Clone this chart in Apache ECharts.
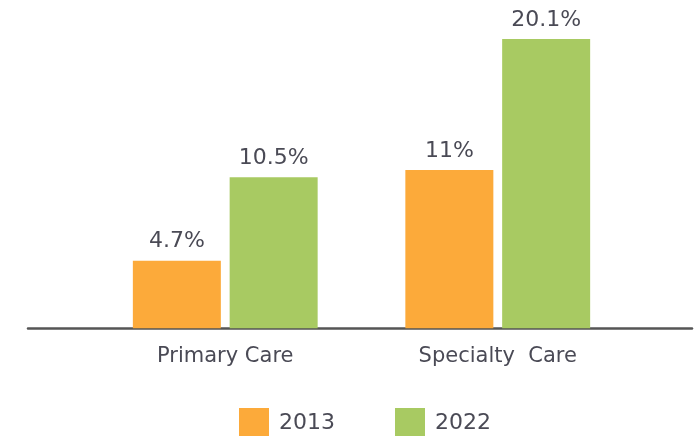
<!DOCTYPE html>
<html>
<head>
<meta charset="utf-8">
<script src="https://cdn.jsdelivr.net/npm/echarts@6/dist/echarts.min.js"></script>
<style>
html,body{margin:0;padding:0;background:#fff;}
#chart{width:694px;height:436px;}
</style>
</head>
<body>
<div id="chart"></div>
<script>
var categories = ['Primary Care', 'Specialty  Care'];
var seriesNames = ['2013', '2022'];
var values2013 = [4.7, 11];
var values2022 = [10.5, 20.1];
var colors = ['#FCAA3A', '#A8CA62'];

var FONT = 'DejaVu Sans';
var TEXT = '#4a4a55';

var chart = echarts.init(document.getElementById('chart'));
var labelCfg = {
  show: true,
  position: 'top',
  distance: 8,
  fontFamily: FONT,
  fontSize: 22,
  color: TEXT,
  formatter: function (p) { return p.value + '%'; }
};
chart.setOption({
  animation: false,
  backgroundColor: '#ffffff',
  color: colors,
  legend: {
    data: seriesNames,
    left: 239,
    top: 408,
    padding: 0,
    icon: 'rect',
    itemWidth: 30,
    itemHeight: 30,
    itemGap: 60,
    textStyle: { fontFamily: FONT, fontSize: 22, color: TEXT, padding: [0, 0, 0, 5] }
  },
  grid: [
    { left: 89, right: 60, top: 11.7, bottom: 107.7, containLabel: false },
    { left: 28, right: 2, top: 11.7, bottom: 107.7, containLabel: false }
  ],
  xAxis: [
    {
      gridIndex: 0,
      type: 'category',
      data: categories,
      axisLine: { show: false },
      axisTick: { show: false },
      axisLabel: { fontFamily: FONT, fontSize: 21, color: TEXT, margin: 18 }
    },
    {
      gridIndex: 1,
      type: 'value',
      min: 0, max: 1,
      axisLine: { show: true, onZero: false, lineStyle: { color: '#555555', width: 2.5 } },
      axisTick: { show: false },
      axisLabel: { show: false },
      splitLine: { show: false }
    }
  ],
  yAxis: [
    { gridIndex: 0, type: 'value', min: 0, max: 22, show: false, splitLine: { show: false } },
    { gridIndex: 1, type: 'value', min: 0, max: 1, show: false, splitLine: { show: false } }
  ],
  series: [
    {
      name: seriesNames[0], type: 'bar', xAxisIndex: 0, yAxisIndex: 0,
      data: values2013, barWidth: 88, barGap: '10%', label: labelCfg,
      itemStyle: { color: colors[0] }, z: 3
    },
    {
      name: seriesNames[1], type: 'bar', xAxisIndex: 0, yAxisIndex: 0,
      data: values2022, barWidth: 88, barGap: '10%', label: labelCfg,
      itemStyle: { color: colors[1] }, z: 3
    }
  ]
});
</script>
</body>
</html>
